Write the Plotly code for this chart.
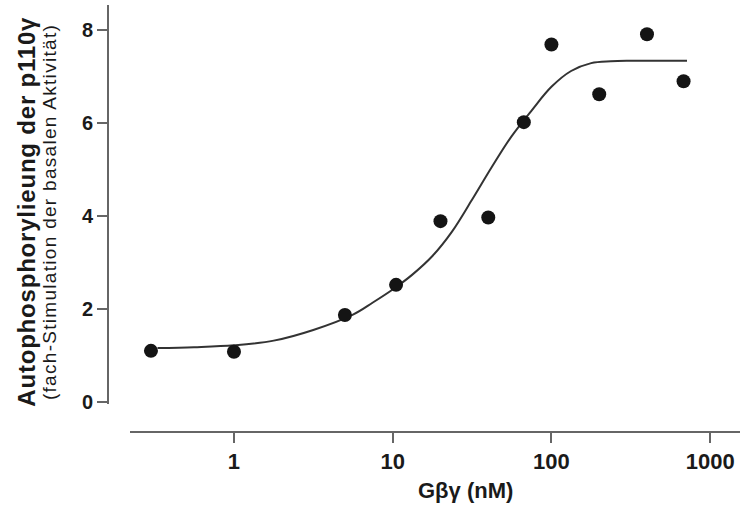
import plotly.graph_objects as go

# measured data points
conc_nM = [0.3, 1, 5, 10.5, 20, 40, 67, 100, 200, 400, 680]
stimulation = [1.10, 1.08, 1.87, 2.52, 3.89, 3.97, 6.02, 7.69, 6.62, 7.91, 6.90]

# fitted curve
fit_x = [0.33, 0.56, 1.0, 1.78, 3.16, 5.62, 7.5, 10.0, 13.3, 17.8, 23.7, 31.6,
         42.2, 56.2, 75.0, 100, 133, 178, 237, 316, 715]
fit_y = [1.16, 1.18, 1.22, 1.32, 1.55, 1.88, 2.14, 2.42, 2.74, 3.14, 3.67, 4.35,
         5.06, 5.72, 6.27, 6.78, 7.12, 7.29, 7.33, 7.34, 7.34]

x_ticks = [1, 10, 100, 1000]
x_ticktext = ["1", "10", "100", "1000"]
y_ticks = [0, 2, 4, 6, 8]

FONT = "Liberation Sans, Arial, Helvetica, sans-serif"
AXC = "#666666"

fig = go.Figure()
fig.add_trace(go.Scatter(x=fit_x, y=fit_y, mode="lines",
                         line=dict(color="#333333", width=2, shape="spline", smoothing=1),
                         hoverinfo="skip", showlegend=False))
fig.add_trace(go.Scatter(x=conc_nM, y=stimulation, mode="markers",
                         marker=dict(color="#141414", size=14),
                         showlegend=False))

fig.update_layout(
    width=740, height=508, autosize=False,
    margin=dict(l=108, r=0, t=5, b=76),
    paper_bgcolor="white", plot_bgcolor="white",
    font=dict(family=FONT, color="#1a1a1a"),
    xaxis=dict(type="log", domain=[0.0348, 1], range=[-0.655, 3.188],
               anchor="free", position=0,
               tickvals=x_ticks, ticktext=x_ticktext,
               ticks="outside", ticklen=10, tickwidth=2, tickcolor=AXC,
               showline=True, linecolor=AXC, linewidth=2,
               showgrid=False, zeroline=False,
               tickfont=dict(family=FONT, size=22, weight="bold", color="#1a1a1a")),
    yaxis=dict(domain=[0.0656, 1], range=[-0.043, 8.54],
               anchor="free", position=0,
               tickvals=y_ticks,
               ticks="outside", ticklen=10, tickwidth=2, tickcolor=AXC,
               showline=True, linecolor=AXC, linewidth=2,
               showgrid=False, zeroline=False,
               tickfont=dict(family=FONT, size=20, weight="bold", color="#1a1a1a")),
    annotations=[
        dict(text="Autophosphorylieung der p110γ", textangle=-90,
             xref="paper", yref="paper", x=0, y=0.515, xshift=-82,
             xanchor="center", yanchor="middle", showarrow=False,
             font=dict(family=FONT, size=24, weight="bold", color="#1a1a1a")),
        dict(text="(fach-Stimulation der basalen Aktivität)", textangle=-90,
             xref="paper", yref="paper", x=0, y=0.515, xshift=-59,
             xanchor="center", yanchor="middle", showarrow=False,
             font=dict(family=FONT, size=19, color="#1a1a1a")),
        dict(text="<b>Gβγ (nM)</b>",
             xref="paper", yref="paper", x=0.566, y=-0.136,
             xanchor="center", yanchor="middle", showarrow=False,
             font=dict(family=FONT, size=22, color="#1a1a1a")),
    ],
)

post = """
(function(){
  function fix(){
    var gd = document.getElementById('{plot_id}');
    if(!gd) return;
    gd.querySelectorAll('text.annotation-text').forEach(function(t){
      var s = t.textContent || '';
      if (s.indexOf('Autophos') === 0) { t.style.letterSpacing = '0.8px'; }
      else if (s.indexOf('(fach') === 0) { t.style.letterSpacing = '1.3px'; }
    });
  }
  fix();
  setTimeout(fix, 0);
})();
"""

fig.write_html("out.html", post_script=post)
